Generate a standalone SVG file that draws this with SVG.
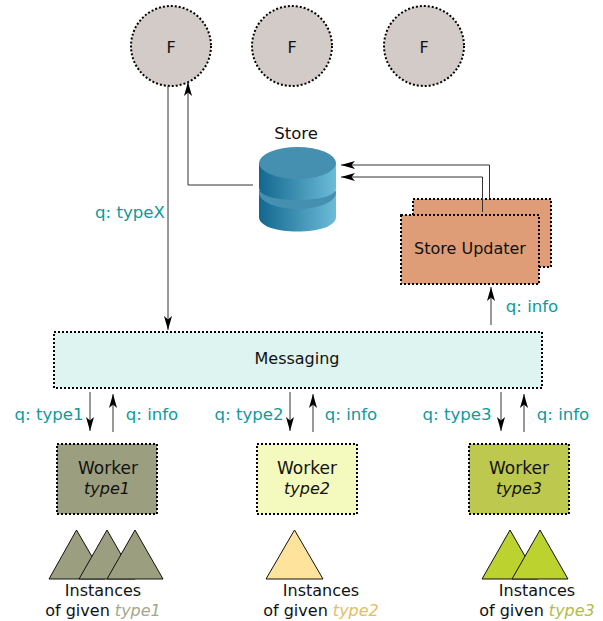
<svg xmlns="http://www.w3.org/2000/svg" width="603" height="621" viewBox="0 0 603 621">
<style>
text{font-family:"DejaVu Sans",sans-serif;font-size:16px;fill:#111;text-anchor:middle}
.q{fill:#0d9b9b;font-size:16.6px}
.i{font-style:italic}
.w{font-size:17px}
.dot{stroke:#000;stroke-width:2;stroke-dasharray:2 2}
.f{fill:#d2cbc7}
.c{fill:none;stroke:#333;stroke-width:1}
.tri{stroke:#111;stroke-width:1}
</style>
<defs>
<marker id="a" markerUnits="userSpaceOnUse" markerWidth="15" markerHeight="12" refX="14" refY="5" orient="auto">
<path d="M0,1 L14,5 L0,9 L3.500,5 Z" fill="#000"/>
</marker>
<linearGradient id="g" x1="0" x2="1" y1="0" y2="0">
<stop offset="0" stop-color="#13678f"/>
<stop offset="1" stop-color="#6cbcd8"/>
</linearGradient>
</defs>
<g id="f1"><circle class="f dot" cx="171" cy="46" r="40"/><text x="171" y="53">F</text></g>
<g id="f2"><circle class="f dot" cx="292" cy="46" r="40"/><text x="292" y="53">F</text></g>
<g id="f3"><circle class="f dot" cx="424" cy="46" r="40"/><text x="424" y="53">F</text></g>
<g id="store">
<text x="296" y="139" style="font-size:16.500px">Store</text>
<path d="M259,191 V217 C259,226 276,231.500 297.500,231.500 C319,231.500 336,226 336,217 V191 Z" fill="url(#g)"/>
<ellipse cx="297.500" cy="193" rx="38.500" ry="16" fill="#4590b0"/>
<path d="M259,163 V188 C259,196 276,200 297.500,200 C319,200 336,196 336,188 V163 Z" fill="url(#g)"/>
<ellipse cx="297.500" cy="163" rx="38.500" ry="16" fill="#4590b0"/>
</g>
<g id="store-updater">
<rect x="413" y="199" width="138" height="68" fill="#de9d77" class="dot"/>
<rect x="401" y="215" width="138" height="69" fill="#de9d77" class="dot"/>
<text x="470" y="254">Store Updater</text>
</g>
<g id="messaging">
<rect x="54" y="332" width="488" height="56" fill="#def4f0" class="dot"/>
<text x="297" y="364">Messaging</text>
</g>
<g id="worker1">
<rect x="57" y="444" width="100" height="70" fill="#9c9e80" class="dot"/>
<text class="w" x="108" y="474">Worker</text><text class="i" x="107" y="494">type1</text>
</g>
<g id="worker2">
<rect x="257" y="444" width="100" height="70" fill="#f4f9bd" class="dot"/>
<text class="w" x="307" y="474">Worker</text><text class="i" x="307" y="494">type2</text>
</g>
<g id="worker3">
<rect x="469" y="444" width="100" height="70" fill="#bdc84f" class="dot"/>
<text class="w" x="519" y="474">Worker</text><text class="i" x="519" y="494">type3</text>
</g>
<g id="instances1">
<path class="tri" d="M76.500,530 L105,579 H49 Z" fill="#9c9e80"/>
<path class="tri" d="M107,530 L135,579 H79 Z" fill="#9c9e80"/>
<path class="tri" d="M135,530 L163,579 H107 Z" fill="#9c9e80"/>
<text x="103" y="596">Instances</text>
<text x="103" y="616">of given <tspan class="i" fill="#a3a78c">type1</tspan></text>
</g>
<g id="instances2">
<path class="tri" d="M294.500,530 L323,579 H266 Z" fill="#fde39b"/>
<text x="321" y="596">Instances</text>
<text x="321" y="616">of given <tspan class="i" fill="#e3bd66">type2</tspan></text>
</g>
<g id="instances3">
<path class="tri" d="M510,530 L538,579 H482 Z" fill="#bbd22f"/>
<path class="tri" d="M540,530 L568,579 H512 Z" fill="#bbd22f"/>
<text x="537" y="596">Instances</text>
<text x="537" y="616">of given <tspan class="i" fill="#b1bd45">type3</tspan></text>
</g>
<g id="connectors">
<path class="c" d="M168,86 V330" marker-end="url(#a)"/>
<path class="c" d="M253,185 H188 V82" marker-end="url(#a)"/>
<path class="c" d="M482.500,212 V177 H341" marker-end="url(#a)"/>
<path class="c" d="M489.500,198 V165 H341" marker-end="url(#a)"/>
<path class="c" d="M491,325 V287" marker-end="url(#a)"/>
<path class="c" d="M90,392 V431" marker-end="url(#a)"/>
<path class="c" d="M113,432 V394" marker-end="url(#a)"/>
<path class="c" d="M290,392 V431" marker-end="url(#a)"/>
<path class="c" d="M313,432 V394" marker-end="url(#a)"/>
<path class="c" d="M501,392 V431" marker-end="url(#a)"/>
<path class="c" d="M524,432 V394" marker-end="url(#a)"/>
</g>
<g id="labels">
<text class="q" x="130" y="218">q: typeX</text>
<text class="q" x="532" y="312">q: info</text>
<text class="q" x="49" y="420">q: type1</text>
<text class="q" x="152" y="420">q: info</text>
<text class="q" x="249" y="420">q: type2</text>
<text class="q" x="351" y="420">q: info</text>
<text class="q" x="457" y="420">q: type3</text>
<text class="q" x="563" y="420">q: info</text>
</g>
</svg>
